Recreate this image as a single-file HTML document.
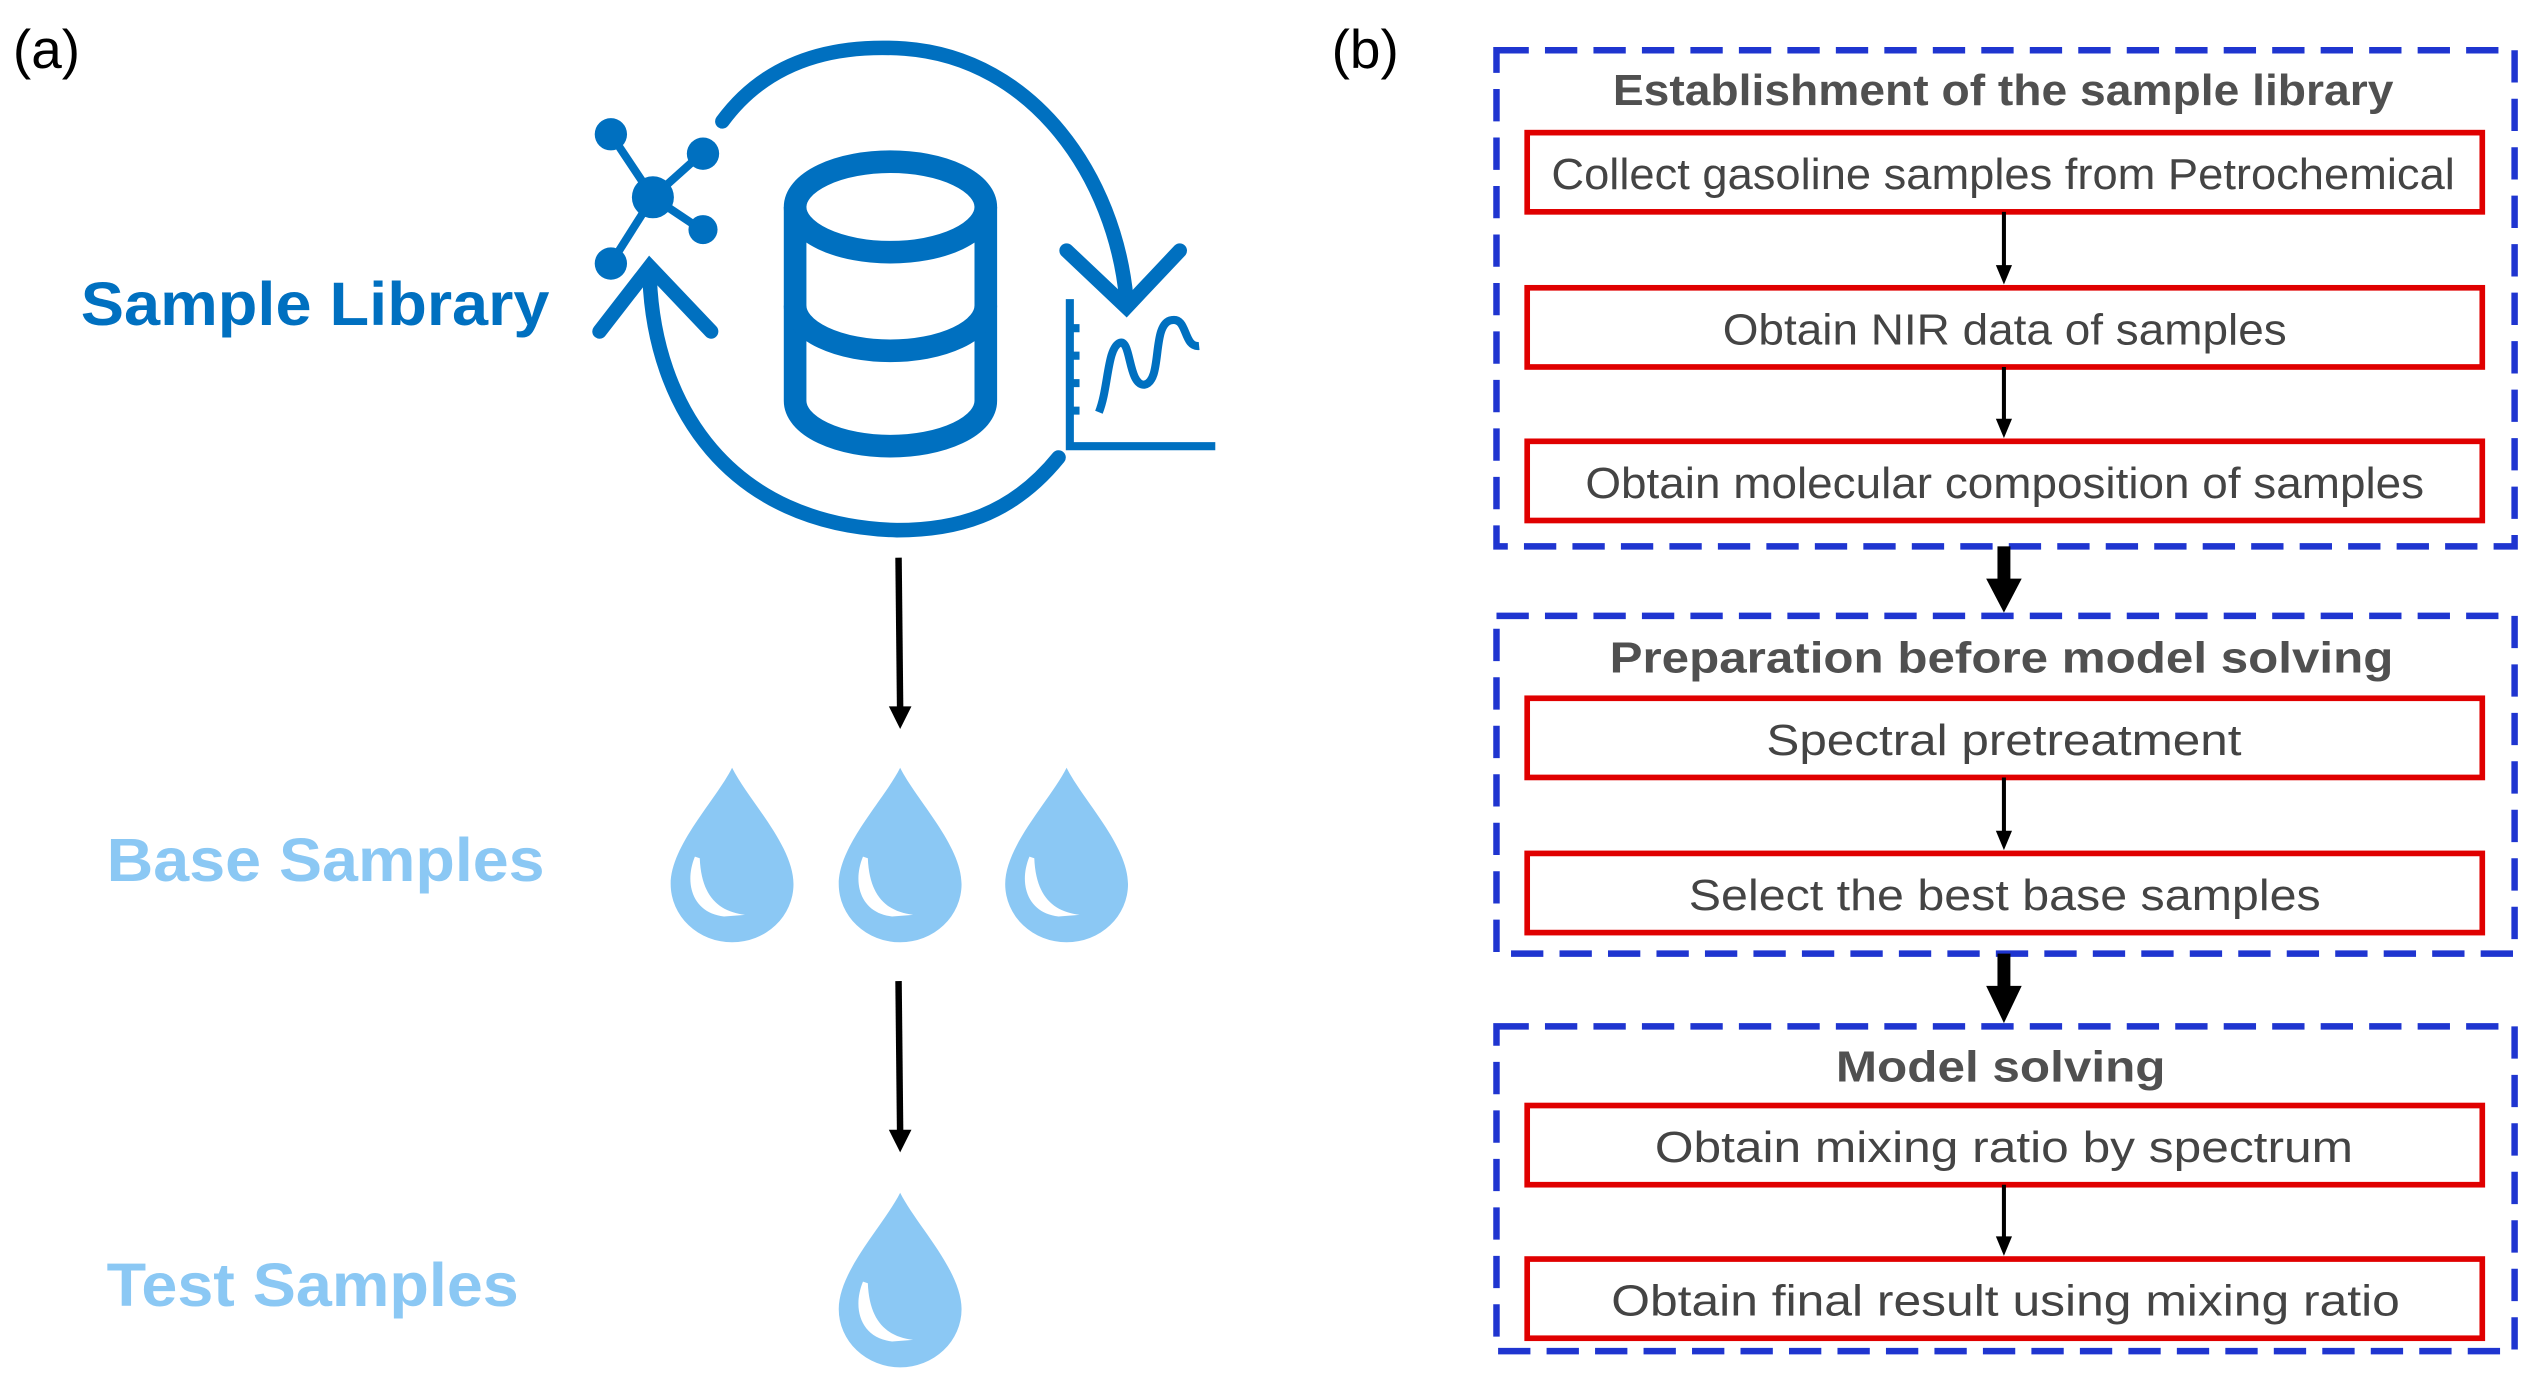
<!DOCTYPE html>
<html><head><meta charset="utf-8"><style>html,body{margin:0;padding:0;background:#fff}svg{display:block}</style></head>
<body>
<svg width="2534" height="1382" viewBox="0 0 1568 855" xmlns="http://www.w3.org/2000/svg" font-family="Liberation Sans, sans-serif">
<defs>
<g id="drop"><path d="M0,0 C10,20 38,48 38,72 A38,36 0 0 1 -38,72 C-38,48 -10,20 0,0 Z" fill="#8BC8F4"/><path d="M-23,55 C-30,72 -24,90 -5,92 L8,91 C-8,89 -19,80 -20,56 Z" fill="#fff"/></g>
</defs>
<text x="8" y="42" font-size="34" fill="#000">(a)</text>
<text x="824" y="42" font-size="34" fill="#000">(b)</text>
<text x="50" y="201" font-size="38" font-weight="bold" fill="#0070C0" textLength="290" lengthAdjust="spacingAndGlyphs">Sample Library</text>
<text x="66" y="545" font-size="38" font-weight="bold" fill="#8BC8F4" textLength="271" lengthAdjust="spacingAndGlyphs">Base Samples</text>
<text x="66" y="808" font-size="38" font-weight="bold" fill="#8BC8F4" textLength="255" lengthAdjust="spacingAndGlyphs">Test Samples</text>
<!-- cylinder -->
<g fill="none" stroke="#0070C0" stroke-width="14">
<ellipse cx="551" cy="128" rx="59" ry="28"/>
<path d="M492,128 V248 A59,28 0 0 0 610,248 V128"/>
<path d="M492,189 A59,28 0 0 0 610,189"/>
</g>
<!-- circular arrows -->
<g fill="none" stroke="#0070C0" stroke-width="9" stroke-linecap="round">
<path d="M447,75 C480,30 530,28 560,30 C640,36 690,110 697,185"/>
<path d="M660,155 L697,190 L730,155"/>
<path d="M655,283 C625,320 590,328 555,328 C450,325 405,250 402,172"/>
<path d="M371,205 L402,165 L440,205"/>
</g>
<!-- molecule -->
<g stroke="#0070C0" stroke-width="5" fill="#0070C0">
<line x1="404" y1="122" x2="378" y2="83"/><line x1="404" y1="122" x2="433" y2="96"/>
<line x1="404" y1="122" x2="434" y2="142"/><line x1="404" y1="122" x2="378" y2="163"/>
<circle cx="404" cy="122" r="13" stroke="none"/><circle cx="378" cy="83" r="10" stroke="none"/>
<circle cx="435" cy="95" r="10" stroke="none"/><circle cx="435" cy="142" r="9" stroke="none"/>
<circle cx="378" cy="163" r="10" stroke="none"/>
</g>
<!-- chart -->
<g stroke="#0070C0" stroke-width="5" fill="none">
<path d="M662,185 V276 H752"/>
<path d="M662,203 h6 M662,220 h6 M662,237 h6 M662,254 h6"/>
<path d="M680,255 C686,240 685,215 693,212 C700,210 698,238 708,238 C720,236 712,200 725,198 C735,196 732,215 742,214"/>
</g>
<!-- left arrows -->
<line x1="556" y1="345" x2="557" y2="440" stroke="#000" stroke-width="4"/>
<polygon points="550,437 564,437 557,451" fill="#000"/>
<line x1="556" y1="607" x2="557" y2="702" stroke="#000" stroke-width="4"/>
<polygon points="550,699 564,699 557,713" fill="#000"/>
<use href="#drop" x="453" y="475"/><use href="#drop" x="557" y="475"/><use href="#drop" x="660" y="475"/>
<use href="#drop" x="557" y="738"/>
<!-- right side -->
<g fill="none" stroke="#1F35D0" stroke-width="4" stroke-dasharray="20,10">
<rect x="926" y="31" width="630" height="307"/>
<rect x="926" y="381" width="630" height="209"/>
<rect x="926" y="635" width="630" height="201"/>
</g>
<g fill="#fff" stroke="#E00000" stroke-width="3.5">
<rect x="945" y="82" width="591" height="49"/><rect x="945" y="178" width="591" height="49"/><rect x="945" y="273" width="591" height="49"/>
<rect x="945" y="432" width="591" height="49"/><rect x="945" y="528" width="591" height="49"/>
<rect x="945" y="684" width="591" height="49"/><rect x="945" y="779" width="591" height="49"/>
</g>
<g stroke="#000" stroke-width="2.5">
<line x1="1240" y1="131" x2="1240" y2="166"/>
<line x1="1240" y1="227" x2="1240" y2="261"/>
<line x1="1240" y1="481" x2="1240" y2="516"/>
<line x1="1240" y1="733" x2="1240" y2="767"/>
</g>
<g fill="#000">
<polygon points="1235,164 1245,164 1240,176"/>
<polygon points="1235,259 1245,259 1240,271"/>
<polygon points="1235,514 1245,514 1240,526"/>
<polygon points="1235,765 1245,765 1240,777"/>
<rect x="1236" y="338" width="8" height="22"/>
<polygon points="1229,358 1251,358 1240,379"/>
<rect x="1236" y="590" width="8" height="22"/>
<polygon points="1229,610 1251,610 1240,633"/>
</g>
<g font-size="27" font-weight="bold" fill="#505050">
<text x="998" y="65" textLength="483" lengthAdjust="spacingAndGlyphs">Establishment of the sample library</text>
<text x="996" y="416" textLength="485" lengthAdjust="spacingAndGlyphs">Preparation before model solving</text>
<text x="1136" y="669" textLength="204" lengthAdjust="spacingAndGlyphs">Model solving</text>
</g>
<g font-size="27" fill="#444">
<text x="960" y="117" textLength="559" lengthAdjust="spacingAndGlyphs">Collect gasoline samples from Petrochemical</text>
<text x="1066" y="213" textLength="349" lengthAdjust="spacingAndGlyphs">Obtain NIR data of samples</text>
<text x="981" y="308" textLength="519" lengthAdjust="spacingAndGlyphs">Obtain molecular composition of samples</text>
<text x="1093" y="467" textLength="294" lengthAdjust="spacingAndGlyphs">Spectral pretreatment</text>
<text x="1045" y="563" textLength="391" lengthAdjust="spacingAndGlyphs">Select the best base samples</text>
<text x="1024" y="719" textLength="432" lengthAdjust="spacingAndGlyphs">Obtain mixing ratio by spectrum</text>
<text x="997" y="814" textLength="488" lengthAdjust="spacingAndGlyphs">Obtain final result using mixing ratio</text>
</g>
</svg>
</body></html>
